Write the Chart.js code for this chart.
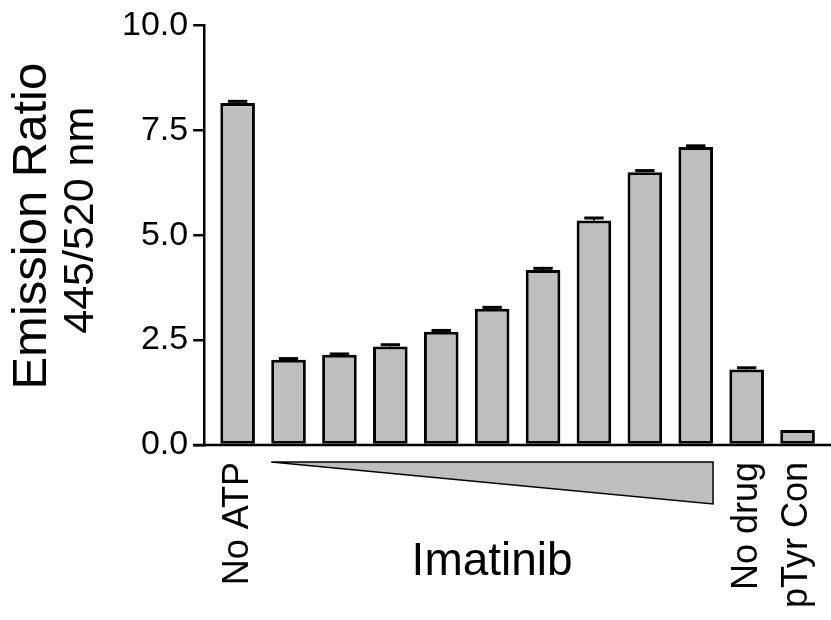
<!DOCTYPE html>
<html>
<head>
<meta charset="utf-8">
<script src="https://cdn.jsdelivr.net/npm/chart.js@4.4.1/dist/chart.umd.min.js"></script>
<style>
  html, body { margin: 0; padding: 0; background: #fff; }
  #wrap { width: 831px; height: 620px; position: relative; }
</style>
</head>
<body>
<div id="wrap"><canvas id="c" width="831" height="620"></canvas></div>
<script>
const categories = ['No ATP', 'Imatinib 1', 'Imatinib 2', 'Imatinib 3', 'Imatinib 4', 'Imatinib 5',
                    'Imatinib 6', 'Imatinib 7', 'Imatinib 8', 'Imatinib 9', 'No drug', 'pTyr Con'];
const shownLabels = ['No ATP', '', '', '', '', '', '', '', '', '', 'No drug', 'pTyr Con'];
const emissionRatio = [8.15, 2.03, 2.15, 2.35, 2.70, 3.25, 4.17, 5.35, 6.50, 7.10, 1.80, 0.36];
const errors = [0.04, 0.03, 0.02, 0.04, 0.03, 0.03, 0.04, 0.06, 0.04, 0.03, 0.04, 0.0];
const yTicks = [0, 2.5, 5, 7.5, 10];
const yTitle1 = 'Emission Ratio';
const yTitle2 = '445/520 nm';
const groupLabel = 'Imatinib';
const groupFirst = 1, groupLast = 9;

const FONT = '"Liberation Sans", Arial, Helvetica, sans-serif';

const extras = {
  id: 'extras',
  afterDatasetsDraw(chart) {
    const ctx = chart.ctx;
    const y = chart.scales.y;
    const meta = chart.getDatasetMeta(0);
    ctx.save();
    ctx.strokeStyle = '#000';
    meta.data.forEach((bar, i) => {
      const e = errors[i];
      if (!e) return;
      const top = y.getPixelForValue(emissionRatio[i] + e);
      const base = y.getPixelForValue(emissionRatio[i]);
      const half = bar.width * 0.28;
      ctx.lineWidth = 2;
      ctx.beginPath();
      ctx.moveTo(bar.x, base);
      ctx.lineTo(bar.x, top);
      ctx.stroke();
      ctx.lineWidth = 3;
      ctx.beginPath();
      ctx.moveTo(bar.x - half, top);
      ctx.lineTo(bar.x + half, top);
      ctx.stroke();
    });
    ctx.restore();
  },
  afterDraw(chart) {
    const ctx = chart.ctx;
    const y = chart.scales.y;
    const meta = chart.getDatasetMeta(0);
    const y0 = y.getPixelForValue(0);
    ctx.save();
    ctx.strokeStyle = '#000';
    ctx.lineWidth = 2.5;
    ctx.beginPath();
    ctx.moveTo(y.right - 11, y0);
    ctx.lineTo(chart.width, y0);
    ctx.stroke();

    const b1 = meta.data[groupFirst], b2 = meta.data[groupLast];
    const left = b1.x - b1.width / 2;
    const right = b2.x + b2.width / 2;
    const top = y0 + 17;
    const bottom = top + 42;
    ctx.beginPath();
    ctx.moveTo(left, top);
    ctx.lineTo(right, top);
    ctx.lineTo(right, bottom);
    ctx.closePath();
    ctx.fillStyle = '#bebebe';
    ctx.fill();
    ctx.lineWidth = 1.5;
    ctx.strokeStyle = '#000';
    ctx.stroke();

    ctx.fillStyle = '#000';
    ctx.font = '46px ' + FONT;
    ctx.textAlign = 'center';
    ctx.textBaseline = 'alphabetic';
    ctx.fillText(groupLabel, (b1.x + b2.x) / 2, 575);

    const cy = (y.top + y.bottom) / 2;
    ctx.save();
    ctx.translate(46, cy - 9);
    ctx.rotate(-Math.PI / 2);
    ctx.font = '49px ' + FONT;
    ctx.fillText(yTitle1, 0, 0);
    ctx.restore();
    ctx.save();
    ctx.translate(93, cy - 15);
    ctx.rotate(-Math.PI / 2);
    ctx.font = '43px ' + FONT;
    ctx.fillText(yTitle2, 0, 0);
    ctx.restore();
    ctx.restore();
  }
};

new Chart(document.getElementById('c'), {
  type: 'bar',
  data: {
    labels: categories,
    datasets: [{
      data: emissionRatio,
      backgroundColor: '#bebebe',
      borderColor: '#000',
      borderWidth: 3,
      borderSkipped: false,
      barPercentage: 0.68,
      categoryPercentage: 1.0,
      yAxisID: 'y'
    }]
  },
  options: {
    responsive: false,
    animation: false,
    devicePixelRatio: 1,
    layout: { padding: { left: 117, right: 8, top: 6, bottom: 0 } },
    plugins: { legend: { display: false }, tooltip: { enabled: false } },
    scales: {
      x: {
        grid: { display: false, drawTicks: false },
        border: { display: false },
        ticks: {
          autoSkip: false,
          minRotation: 90,
          maxRotation: 90,
          padding: 17,
          color: '#000',
          font: { family: FONT, size: 36 },
          callback: (v, i) => shownLabels[i]
        },
        afterFit: (s) => { s.height = 175; s.paddingLeft = 0; s.paddingRight = 0; }
      },
      y: {
        position: 'left',
        weight: 1,
        min: 0,
        max: 10,
        afterBuildTicks: (s) => { s.ticks = yTicks.map(v => ({ value: v })); },
        grid: { drawOnChartArea: false, tickLength: 11, color: '#000', lineWidth: 2.5 },
        border: { display: true, color: '#000', width: 2.5 },
        ticks: {
          padding: 5,
          color: '#000',
          font: { family: FONT, size: 34 },
          callback: (v) => Number(v).toFixed(1)
        }
      },
      gap: {
        position: 'left',
        weight: 0,
        display: true,
        grid: { display: false },
        border: { display: false },
        ticks: { display: false },
        afterFit: (s) => { s.width = 8; }
      }
    }
  },
  plugins: [extras]
});
</script>
</body>
</html>
